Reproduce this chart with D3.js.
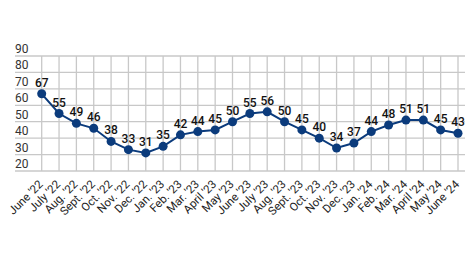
<!DOCTYPE html>
<html>
<head>
<meta charset="utf-8">
<title>Chart</title>
<script src="https://d3js.org/d3.v7.min.js"></script>
<style>
  body { margin: 0; background: #fff; }
  text { font-family: Roboto, "Noto Sans", sans-serif; }
</style>
</head>
<body>
<script>
// data
var months = ["June '22","July '22","Aug. '22","Sept. '22","Oct. '22","Nov. '22","Dec. '22",
  "Jan. '23","Feb. '23","Mar. '23","April '23","May '23","June '23","July '23","Aug. '23",
  "Sept. '23","Oct. '23","Nov. '23","Dec. '23","Jan. '24","Feb. '24","Mar. '24","April '24",
  "May '24","June '24"];
var values = [67,55,49,46,38,33,31,35,42,44,45,50,55,56,50,45,40,34,37,44,48,51,51,45,43];
var yTicks = [20,30,40,50,60,70,80,90];

var w = 465, h = 257;
var navy = "#0b3b7c";

var svg = d3.select("body").append("svg")
  .attr("width", w).attr("height", h);

var x = d3.scalePoint().domain(months).range([41.7, 458]);
var y = d3.scaleLinear().domain([20, 90]).range([171, 56]);

// horizontal grid + y labels
var gy = svg.append("g");
gy.selectAll("line").data(yTicks).enter().append("line")
  .attr("x1", 15).attr("x2", w)
  .attr("y1", function(d){ return y(d); })
  .attr("y2", function(d){ return y(d); })
  .attr("stroke", "#c8c8c8").attr("stroke-width", 1.3);
gy.selectAll("text").data(yTicks).enter().append("text")
  .attr("x", 15)
  .attr("y", function(d){ return y(d) - 3; })
  .attr("font-size", 12).attr("fill", "#333")
  .text(function(d){ return d; });

// vertical grid
svg.append("g").selectAll("line").data(months).enter().append("line")
  .attr("x1", function(d){ return x(d); })
  .attr("x2", function(d){ return x(d); })
  .attr("y1", y(90)).attr("y2", y(20))
  .attr("stroke", "#c8c8c8").attr("stroke-width", 1.3);

// x labels
svg.append("g").selectAll("text").data(months).enter().append("text")
  .attr("transform", function(d){ return "translate(" + (x(d) + 2) + "," + 185 + ") rotate(-45)"; })
  .attr("text-anchor", "end")
  .attr("font-size", 11.5).attr("fill", "#222")
  .text(function(d){ return d; });

// line
var line = d3.line()
  .x(function(d, i){ return x(months[i]); })
  .y(function(d){ return y(d); });
svg.append("path").datum(values)
  .attr("d", line)
  .attr("fill", "none").attr("stroke", navy).attr("stroke-width", 2);

svg.append("g").selectAll("circle").data(values).enter().append("circle")
  .attr("cx", function(d, i){ return x(months[i]); })
  .attr("cy", function(d){ return y(d); })
  .attr("r", 4.5).attr("fill", navy);

svg.append("g").selectAll("text").data(values).enter().append("text")
  .attr("x", function(d, i){ return x(months[i]); })
  .attr("y", function(d){ return y(d) - 7; })
  .attr("text-anchor", "middle")
  .attr("font-size", 12).attr("font-weight", 500).attr("fill", "#111")
  .text(function(d){ return d; });
</script>
</body>
</html>
